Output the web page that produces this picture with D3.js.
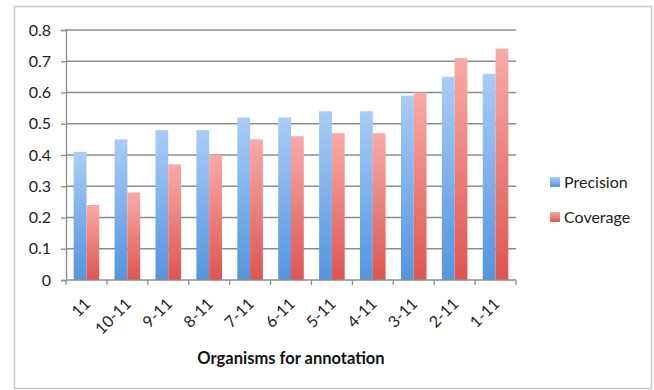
<!DOCTYPE html>
<html>
<head>
<meta charset="utf-8">
<script src="https://cdn.jsdelivr.net/npm/d3@7"></script>
<style>
  html, body { margin: 0; padding: 0; background: #fff; }
  svg { display: block; font-family: Lato, "Open Sans", sans-serif; }
</style>
</head>
<body>
<svg id="chart" width="654" height="390"></svg>
<script>
// Organism subsets, in drawing order
const categories = ["11", "10-11", "9-11", "8-11", "7-11", "6-11", "5-11", "4-11", "3-11", "2-11", "1-11"];
const precision = [0.41, 0.45, 0.48, 0.48, 0.52, 0.52, 0.54, 0.54, 0.59, 0.65, 0.66];
const coverage  = [0.24, 0.28, 0.37, 0.40, 0.45, 0.46, 0.47, 0.47, 0.60, 0.71, 0.74];
const seriesNames = ["Precision", "Coverage"];
const yTicks = [0, 0.1, 0.2, 0.3, 0.4, 0.5, 0.6, 0.7, 0.8];
const xTitle = "Organisms for annotation";

const svg = d3.select("#chart");
const plot = { left: 66, right: 516, top: 30, bottom: 280 };

// outer frame
svg.append("rect")
  .attr("x", 14.5).attr("y", 6.5)
  .attr("width", 637).attr("height", 382)
  .attr("fill", "#fff")
  .attr("stroke", "#c8c8c8").attr("stroke-width", 1.5);

// gradients: light at the top of each bar, darker at the base
const defs = svg.append("defs");
const grads = [
  { id: "g-prec", top: "#a9ccf7", bottom: "#5394e0" },
  { id: "g-cov",  top: "#f8aba7", bottom: "#df5450" }
];
grads.forEach(g => {
  const lg = defs.append("linearGradient").attr("id", g.id)
    .attr("x1", 0).attr("y1", 0).attr("x2", 0).attr("y2", 1);
  lg.append("stop").attr("offset", "0%").attr("stop-color", g.top);
  lg.append("stop").attr("offset", "100%").attr("stop-color", g.bottom);
});

const x = d3.scaleBand().domain(categories)
  .range([plot.left, plot.right]).paddingInner(0.375).paddingOuter(0.1875);
const x1 = d3.scaleBand().domain(seriesNames).range([0, x.bandwidth()]);
const y = d3.scaleLinear().domain([0, 0.8]).range([plot.bottom, plot.top]);

// horizontal gridlines
svg.append("g").selectAll("line").data(yTicks.slice(1)).join("line")
  .attr("x1", plot.left).attr("x2", plot.right)
  .attr("y1", d => y(d)).attr("y2", d => y(d))
  .attr("stroke", "#8c8c8c").attr("stroke-width", 1.3);

// bars
const rows = categories.map((c, i) => ({ c, vals: [precision[i], coverage[i]] }));
const groups = svg.append("g").selectAll("g").data(rows).join("g")
  .attr("transform", d => `translate(${x(d.c)},0)`);
groups.selectAll("rect").data(d => d.vals.map((v, k) => ({ k, v }))).join("rect")
  .attr("x", d => x1(seriesNames[d.k]))
  .attr("width", x1.bandwidth())
  .attr("y", d => y(d.v))
  .attr("height", d => y(0) - y(d.v))
  .attr("fill", d => `url(#${grads[d.k].id})`);

// y axis
const yAxis = svg.append("g").attr("transform", `translate(${plot.left},0)`)
  .call(d3.axisLeft(y).tickValues(yTicks).tickSize(5).tickPadding(10)
    .tickFormat(d => d === 0 ? "0" : d3.format(".1f")(d)));
yAxis.select(".domain").attr("stroke", "#8c8c8c").attr("stroke-width", 1.3);
yAxis.selectAll(".tick line").attr("stroke", "#8c8c8c").attr("stroke-width", 1.3);
yAxis.selectAll("text").attr("font-size", 16).attr("fill", "#222")
  .attr("font-family", "Lato, sans-serif");

// x axis: ticks at group boundaries
const bounds = d3.range(categories.length + 1)
  .map(i => plot.left + i * (plot.right - plot.left) / categories.length);
const xAxisG = svg.append("g");
xAxisG.append("line")
  .attr("x1", plot.left).attr("x2", plot.right)
  .attr("y1", plot.bottom).attr("y2", plot.bottom)
  .attr("stroke", "#8c8c8c").attr("stroke-width", 1.3);
xAxisG.selectAll("line.tk").data(bounds).join("line").attr("class", "tk")
  .attr("x1", d => d).attr("x2", d => d)
  .attr("y1", plot.bottom).attr("y2", plot.bottom + 5)
  .attr("stroke", "#8c8c8c").attr("stroke-width", 1.3);
xAxisG.selectAll("text").data(categories).join("text")
  .attr("transform", d => `translate(${x(d) + x.bandwidth() / 2 + 1},${plot.bottom + 21}) rotate(-45)`)
  .attr("text-anchor", "end")
  .attr("dy", "0.35em")
  .attr("font-size", 16).attr("fill", "#222")
  .text(d => d);

// x axis title
svg.append("text")
  .attr("x", (plot.left + plot.right) / 2).attr("y", 364)
  .attr("text-anchor", "middle")
  .attr("font-size", 16.5).attr("font-weight", "bold").attr("fill", "#111")
  .text(xTitle);

// legend
const legend = svg.append("g");
seriesNames.forEach((name, k) => {
  const ly = 182 + k * 35;
  legend.append("rect")
    .attr("x", 550).attr("y", ly - 5).attr("width", 10).attr("height", 10)
    .attr("fill", `url(#${grads[k].id})`);
  legend.append("text")
    .attr("x", 564).attr("y", ly).attr("dy", "0.35em")
    .attr("font-size", 16).attr("fill", "#222")
    .text(name);
});
</script>
</body>
</html>
